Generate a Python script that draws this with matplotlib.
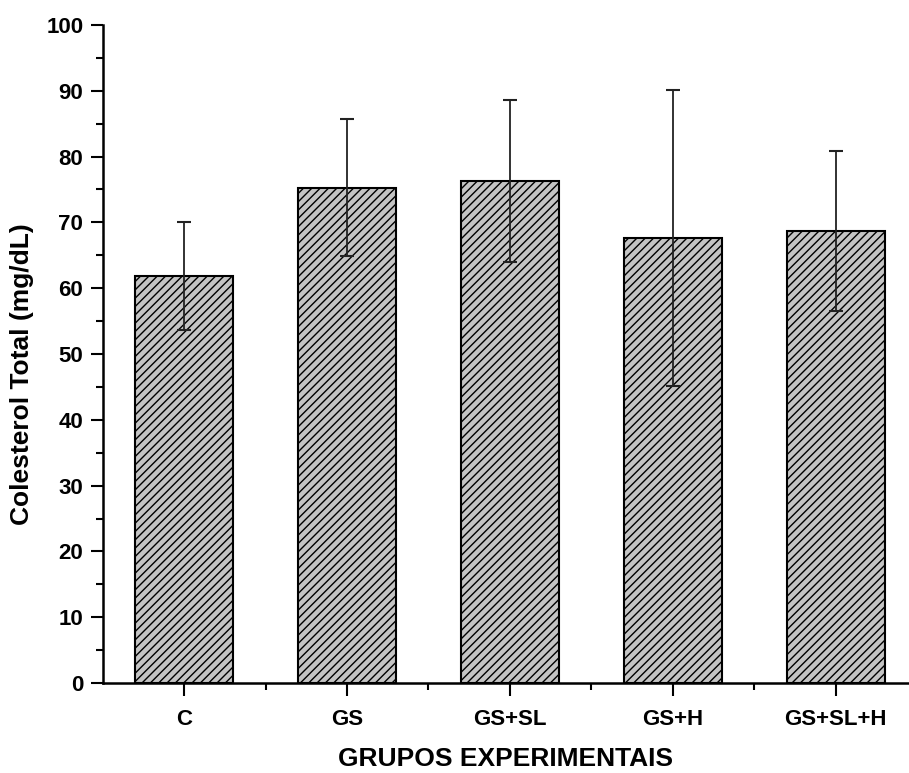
import matplotlib
matplotlib.use("Agg")
import matplotlib.pyplot as plt
import numpy as np

plt.rcParams['font.family'] = ['Liberation Sans', 'DejaVu Sans']
plt.rcParams['hatch.linewidth'] = 1.0

groups = ["C", "GS", "GS+SL", "GS+H", "GS+SL+H"]
means = [61.9, 75.3, 76.3, 67.6, 68.7]
errors = [8.2, 10.4, 12.3, 22.5, 12.2]

fig = plt.figure(figsize=(9.09, 7.73), dpi=100)
ax = fig.add_axes([0.113, 0.1164, 0.887, 0.8513])

x = np.arange(1, len(groups) + 1)
ax.bar(x, means, width=0.6, color="#c4c4c4", edgecolor="black",
       linewidth=1.5, hatch="////", zorder=2)
ax.errorbar(x, means, yerr=errors, fmt="none", ecolor="#222222",
            elinewidth=1.3, capsize=5, capthick=1.5, zorder=3)

ax.set_xlim(0.5, 5.45)
ax.set_ylim(0, 100)
ax.set_xticks(x)
ax.set_xticklabels(groups)
ax.set_xticks(x[:-1] + 0.5, minor=True)
ax.set_yticks(np.arange(0, 101, 10))
ax.set_yticks(np.arange(5, 100, 10), minor=True)

for lab in ax.get_xticklabels() + ax.get_yticklabels():
    lab.set_fontweight("bold")
    lab.set_fontsize(16)

ax.tick_params(axis="both", which="major", length=9, width=1.5, direction="out")
ax.tick_params(axis="both", which="minor", length=5, width=1.5, direction="out")
ax.tick_params(axis="x", pad=10)
ax.tick_params(axis="y", pad=5)

ax.spines["top"].set_visible(False)
ax.spines["right"].set_visible(False)
ax.spines["left"].set_linewidth(1.8)
ax.spines["bottom"].set_linewidth(1.8)

ax.set_xlabel("GRUPOS EXPERIMENTAIS", fontsize=19, fontweight="bold", labelpad=12)
ax.set_ylabel("Colesterol Total (mg/dL)", fontsize=19, fontweight="bold")
ax.yaxis.set_label_coords(-0.085, 0.47)

fig.savefig("out.png", dpi=100)
